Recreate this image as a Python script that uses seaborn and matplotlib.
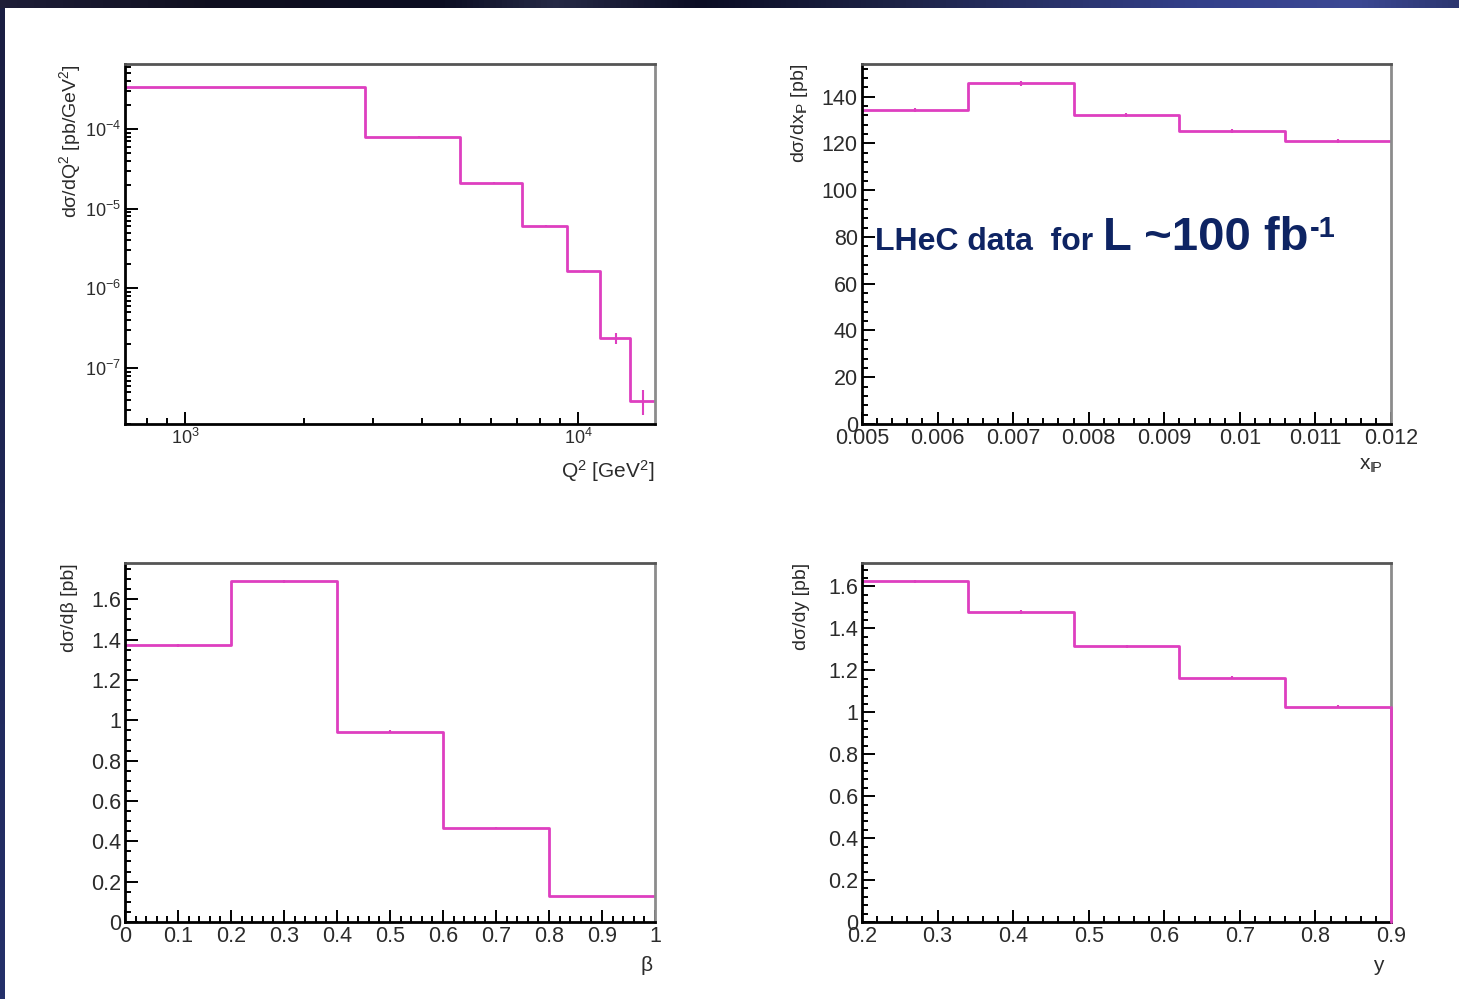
import numpy as np
import matplotlib
matplotlib.use('Agg')
import matplotlib.pyplot as plt
import seaborn as sns
from matplotlib.ticker import MultipleLocator, FuncFormatter, NullFormatter, LogLocator
from matplotlib.colors import LinearSegmentedColormap

# values
q2_edges = [702, 2866, 5012, 7180, 9350, 11380, 13540, 15670]
q2_vals = [3.33e-4, 8.0e-5, 2.12e-5, 6.05e-6, 1.65e-6, 2.38e-7, 3.93e-8]
q2_errs = [3e-6, 8e-7, 3e-7, 1.2e-7, 6e-8, 3.7e-8, 1.37e-8]

xpom_edges = [0.005, 0.0064, 0.0078, 0.0092, 0.0106, 0.012]
xpom_vals = [134.3, 145.7, 132.2, 125.3, 121.0]
xpom_errs = [0.9, 0.9, 0.8, 0.8, 0.8]

beta_edges = [0.0, 0.2, 0.4, 0.6, 0.8, 1.0]
beta_vals = [1.371, 1.689, 0.943, 0.466, 0.128]
beta_errs = [0.008, 0.009, 0.007, 0.005, 0.003]

y_edges = [0.2, 0.34, 0.48, 0.62, 0.76, 0.9]
y_vals = [1.624, 1.478, 1.314, 1.165, 1.027]
y_errs = [0.008, 0.008, 0.007, 0.007, 0.006]

HIST_COL = '#de3fc0'
TEXT_COL = '#2b2b2b'
NAVY = '#0e2463'

sns.set_theme(style='ticks')
plt.rcParams['font.family'] = ['Liberation Sans', 'DejaVu Sans']
plt.rcParams['mathtext.fontset'] = 'custom'
plt.rcParams['mathtext.rm'] = 'Liberation Sans'
plt.rcParams['mathtext.it'] = 'Liberation Sans:italic'
plt.rcParams['mathtext.bf'] = 'Liberation Sans:bold'

fig = plt.figure(figsize=(14.59, 9.99), dpi=100)
W, H = 1459, 999

# dark slide border (top and left)
top_cmap = LinearSegmentedColormap.from_list('top', [
    (0.0, '#1e1e38'), (0.14, '#101020'), (0.3, '#0b0d22'), (0.38, '#262a46'),
    (0.48, '#0b0d24'), (0.62, '#1e2448'), (0.82, '#33408a'), (0.93, '#3c4894'),
    (1.0, '#2c3670')])
band = fig.add_axes([0, 1 - 8 / H, 1, 8 / H])
band.imshow(np.linspace(0, 1, 256)[None, :], aspect='auto', cmap=top_cmap)
band.axis('off')
side_cmap = LinearSegmentedColormap.from_list('side', ['#1a1e42', '#24306a'])
side = fig.add_axes([0, 0, 5 / W, 1 - 8 / H])
side.imshow(np.linspace(0, 1, 256)[:, None], aspect='auto', cmap=side_cmap)
side.axis('off')


def px_axes(left, top, right, bottom):
    return fig.add_axes([left / W, 1 - bottom / H, (right - left) / W, (bottom - top) / H])


def style_axes(ax):
    for s in ['left', 'bottom']:
        ax.spines[s].set_color('black')
        ax.spines[s].set_linewidth(2)
    ax.spines['top'].set_color('#555555')
    ax.spines['top'].set_linewidth(2)
    ax.spines['right'].set_color('#8c8c8c')
    ax.spines['right'].set_linewidth(2)
    ax.tick_params(which='both', direction='in', top=False, right=False,
                   colors='black', labelcolor=TEXT_COL, width=1.4)
    ax.tick_params(which='major', length=9, labelsize=15.5, pad=3)
    ax.tick_params(which='minor', length=4.5)
    ax.grid(False)


def draw_hist(ax, edges, vals, errs):
    centers = [(a + b) / 2 for a, b in zip(edges[:-1], edges[1:])]
    sns.histplot(x=centers, weights=vals, bins=edges, element='step', fill=False,
                 color=HIST_COL, linewidth=2, ax=ax)
    ax.errorbar(centers, vals, yerr=errs, fmt='none', ecolor=HIST_COL, elinewidth=1.5)
    return centers


fmt_g = FuncFormatter(lambda v, p: f'{v:g}')

# Q^2 panel
ax1 = px_axes(125, 64, 655, 424)
draw_hist(ax1, q2_edges, q2_vals, q2_errs)
ax1.set_xscale('log')
ax1.set_yscale('log')
ax1.set_xlim(q2_edges[0], q2_edges[-1])
ax1.set_ylim(2.0e-8, 6.5e-4)
style_axes(ax1)
ax1.tick_params(which='major', labelsize=13)
ax1.xaxis.set_minor_locator(LogLocator(base=10, subs=np.arange(2, 10)))
ax1.yaxis.set_minor_locator(LogLocator(base=10, subs=np.arange(2, 10)))
ax1.xaxis.set_minor_formatter(NullFormatter())
ax1.yaxis.set_minor_formatter(NullFormatter())
ax1.set_ylabel('dσ/dQ$^{2}$ [pb/GeV$^{2}$]', loc='top', fontsize=14, color=TEXT_COL)
ax1.set_xlabel('Q$^{2}$ [GeV$^{2}$]', loc='right', fontsize=15, color=TEXT_COL)
ax1.yaxis.set_label_coords(-0.08, 1.0)
ax1.xaxis.set_label_coords(1.0, -0.095)

# x_pomeron panel
ax2 = px_axes(862, 64, 1391, 424)
draw_hist(ax2, xpom_edges, xpom_vals, xpom_errs)
ax2.set_xlim(xpom_edges[0], xpom_edges[-1])
ax2.set_ylim(0, 154)
style_axes(ax2)
ax2.xaxis.set_major_locator(MultipleLocator(0.001))
ax2.xaxis.set_minor_locator(MultipleLocator(0.0002))
ax2.yaxis.set_major_locator(MultipleLocator(20))
ax2.yaxis.set_minor_locator(MultipleLocator(4))
ax2.xaxis.set_major_formatter(fmt_g)
ax2.yaxis.set_major_formatter(fmt_g)
ax2.set_ylabel('dσ/dx$_{\\mathrm{I\\!P}}$ [pb]', loc='top', fontsize=14, color=TEXT_COL)
ax2.set_xlabel('x$_{\\mathrm{I\\!P}}$', loc='right', fontsize=15, color=TEXT_COL)
ax2.yaxis.set_label_coords(-0.098, 1.0)
ax2.xaxis.set_label_coords(0.985, -0.09)
ax2.text(0.024, 0.483, 'LHeC data  for', transform=ax2.transAxes, fontsize=23,
         fontweight='bold', color=NAVY, va='baseline', ha='left')
big = ax2.text(0.4556, 0.483, 'L ~100 fb', transform=ax2.transAxes, fontsize=34,
               fontweight='bold', color=NAVY, va='baseline', ha='left')
ax2.annotate('-1', xy=(1, 1), xycoords=big, xytext=(1, 1), textcoords='offset points',
             fontsize=21, fontweight='bold', color=NAVY, va='top', ha='left')

# beta panel
ax3 = px_axes(125, 563, 655, 922)
draw_hist(ax3, beta_edges, beta_vals, beta_errs)
ax3.set_xlim(beta_edges[0], beta_edges[-1])
ax3.set_ylim(0, 1.78)
style_axes(ax3)
ax3.xaxis.set_major_locator(MultipleLocator(0.1))
ax3.xaxis.set_minor_locator(MultipleLocator(0.02))
ax3.yaxis.set_major_locator(MultipleLocator(0.2))
ax3.yaxis.set_minor_locator(MultipleLocator(0.05))
ax3.xaxis.set_major_formatter(fmt_g)
ax3.yaxis.set_major_formatter(fmt_g)
ax3.set_ylabel('dσ/dβ [pb]', loc='top', fontsize=14, color=TEXT_COL)
ax3.set_xlabel('β', loc='right', fontsize=15, color=TEXT_COL)
ax3.yaxis.set_label_coords(-0.088, 1.0)
ax3.xaxis.set_label_coords(0.995, -0.095)

# y panel
ax4 = px_axes(862, 563, 1391, 922)
draw_hist(ax4, y_edges, y_vals, y_errs)
ax4.plot([y_edges[-1], y_edges[-1]], [y_vals[-1], 0], color=HIST_COL, linewidth=2,
         clip_on=False, zorder=5)
ax4.set_xlim(y_edges[0], y_edges[-1])
ax4.set_ylim(0, 1.712)
style_axes(ax4)
ax4.xaxis.set_major_locator(MultipleLocator(0.1))
ax4.xaxis.set_minor_locator(MultipleLocator(0.02))
ax4.yaxis.set_major_locator(MultipleLocator(0.2))
ax4.yaxis.set_minor_locator(MultipleLocator(0.04))
ax4.xaxis.set_major_formatter(fmt_g)
ax4.yaxis.set_major_formatter(fmt_g)
ax4.set_ylabel('dσ/dy [pb]', loc='top', fontsize=14, color=TEXT_COL)
ax4.set_xlabel('y', loc='right', fontsize=15, color=TEXT_COL)
ax4.yaxis.set_label_coords(-0.098, 1.0)
ax4.xaxis.set_label_coords(0.985, -0.095)

fig.savefig('out.png', dpi=100, facecolor='white')
